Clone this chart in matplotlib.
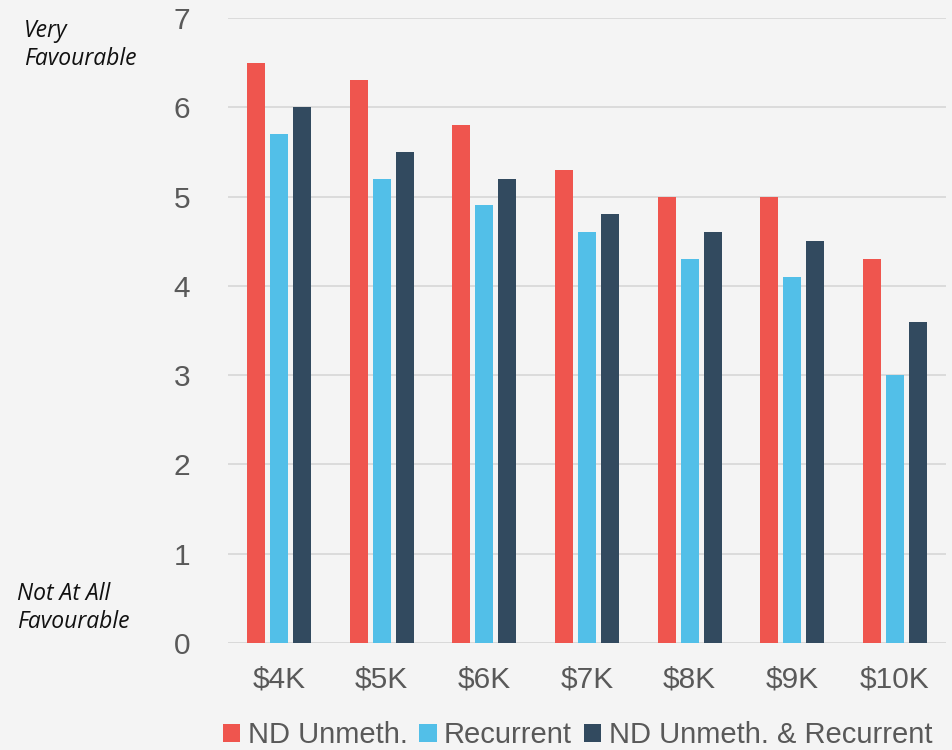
import matplotlib.pyplot as plt
import numpy as np

categories = ['$4K', '$5K', '$6K', '$7K', '$8K', '$9K', '$10K']
nd_unmeth = [6.5, 6.3, 5.8, 5.3, 5.0, 5.0, 4.3]
recurrent = [5.7, 5.2, 4.9, 4.6, 4.3, 4.1, 3.0]
nd_and_recurrent = [6.0, 5.5, 5.2, 4.8, 4.6, 4.5, 3.6]

series = ['ND Unmeth.', 'Recurrent', 'ND Unmeth. & Recurrent']
colors = ['#EF554E', '#52BFE8', '#324A5F']
bg = '#F4F4F4'
text_color = '#595959'

plt.rcParams['font.family'] = ['Liberation Sans', 'DejaVu Sans']

fig = plt.figure(figsize=(9.53, 7.5), dpi=100, facecolor=bg)
ax = fig.add_axes([0.239, 0.1427, 0.754, 0.8333], facecolor=bg)

x = np.arange(len(categories))
width = 0.175
step = 0.224
for i, (vals, name, c) in enumerate(zip([nd_unmeth, recurrent, nd_and_recurrent], series, colors)):
    ax.bar(x + (i - 1) * step, vals, width=width, color=c, label=name, zorder=3)

ax.set_xlim(-0.5, len(categories) - 0.5)
ax.set_ylim(0, 7)
ax.set_yticks(range(0, 8))
ax.yaxis.grid(True, color='#D9D9D9', linewidth=1.3, zorder=0)
for s in ['top', 'right', 'left', 'bottom']:
    ax.spines[s].set_visible(False)
ax.axhline(0, color='#D9D9D9', linewidth=2, zorder=2)

ax.set_xticks(x)
ax.set_xticklabels(categories)
ax.tick_params(axis='both', length=0, labelsize=21.5, colors=text_color)
ax.tick_params(axis='y', pad=27)
ax.tick_params(axis='x', pad=16)

# end labels on the left
lab = dict(fontsize=16.5, style='italic', color='#111111', family=['Open Sans', 'DejaVu Sans'],
           ha='left', va='center', linespacing=1.2)
fig.text(24 / 953, 1 - 45 / 750, 'Very\nFavourable', **lab)
fig.text(17 / 953, 1 - 608 / 750, 'Not At All\nFavourable', **lab)

fig.legend(loc='lower center', bbox_to_anchor=(0.606, -0.034), ncol=3, frameon=False,
           fontsize=21, handlelength=0.6, handleheight=0.6, handletextpad=0.25,
           columnspacing=0.4, labelcolor=text_color)

fig.savefig('out.png', dpi=100, facecolor=bg)
